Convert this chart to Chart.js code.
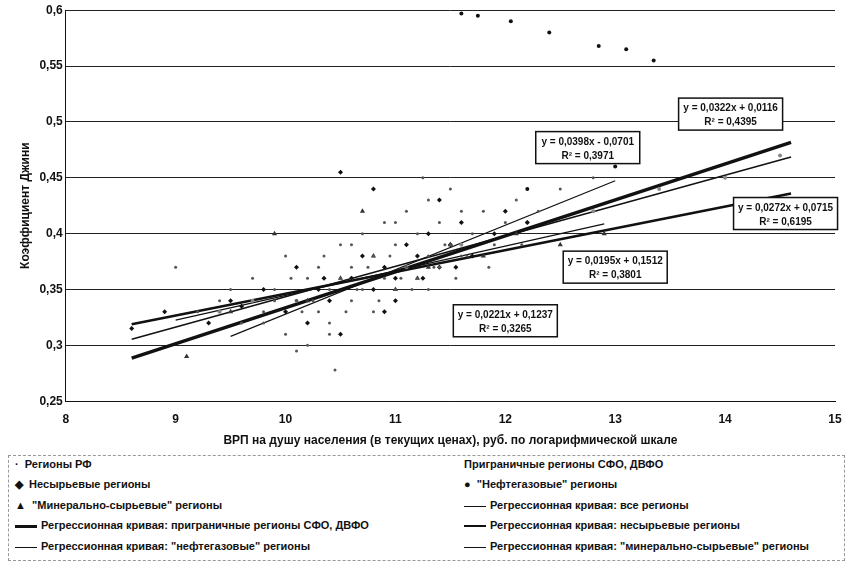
<!DOCTYPE html>
<html><head><meta charset="utf-8">
<script src="https://cdn.jsdelivr.net/npm/chart.js@4/dist/chart.umd.min.js"></script>
<style>
body{margin:0;background:#fff;font-family:"Liberation Sans",Arial,sans-serif}
#wrap{position:relative;width:849px;height:452px}
#legend{position:absolute;left:8px;top:455px;width:835px;height:104px;border:1px dashed #999;font-size:11px;font-weight:bold;color:#111}
#legend div{position:absolute;white-space:nowrap}
.ln{display:inline-block;width:22px;vertical-align:middle;margin-right:4px;border-top:1px solid #111}
</style></head><body>
<div id="wrap"><canvas id="c" width="849" height="452"></canvas></div>
<div id="legend">
<div style="left:6px;top:2px">· &nbsp;Регионы РФ</div>
<div style="left:455px;top:2px">Приграничные регионы СФО, ДВФО</div>
<div style="left:6px;top:22px">◆ &nbsp;Несырьевые регионы</div>
<div style="left:455px;top:22px">● &nbsp;"Нефтегазовые" регионы</div>
<div style="left:6px;top:43px">▲ &nbsp;"Минерально-сырьевые" регионы</div>
<div style="left:455px;top:43px"><span class="ln"></span>Регрессионная кривая: все регионы</div>
<div style="left:6px;top:63px"><span class="ln" style="border-top-width:3px"></span>Регрессионная кривая: приграничные регионы СФО, ДВФО</div>
<div style="left:455px;top:63px"><span class="ln" style="border-top-width:2px"></span>Регрессионная кривая: несырьевые регионы</div>
<div style="left:6px;top:84px"><span class="ln"></span>Регрессионная кривая: "нефтегазовые" регионы</div>
<div style="left:455px;top:84px"><span class="ln"></span>Регрессионная кривая: "минерально-сырьевые" регионы</div>
</div>
<script>
const regionsX = [9.0,9.2,9.4,9.6,9.7,9.8,9.9,10.0,10.0,10.1,10.2,10.2,10.3,10.3,10.4,10.4,10.5,10.5,10.6,10.6,10.7,10.7,10.8,10.8,10.9,10.9,11.0,11.0,11.1,11.1,11.2,11.2,11.3,11.3,11.4,11.4,11.5,11.5,11.6,11.7,11.8,11.9,12.0,12.1,12.3,12.5,12.8,10.1,10.45,11.25,
  9.5,9.8,10.05,10.25,10.35,10.55,10.65,10.75,10.85,10.95,11.05,11.15,11.35,11.45,11.55,11.65,11.85,12.15,10.15,10.6,11.0,11.3,11.6,9.9,10.4]
const regionsY = [0.37,0.33,0.34,0.32,0.36,0.33,0.35,0.31,0.38,0.34,0.36,0.30,0.33,0.37,0.35,0.32,0.36,0.39,0.34,0.37,0.35,0.40,0.33,0.38,0.36,0.41,0.35,0.39,0.37,0.42,0.36,0.40,0.38,0.43,0.37,0.41,0.39,0.44,0.38,0.40,0.42,0.39,0.41,0.43,0.42,0.44,0.45,0.295,0.278,0.45,
  0.35,0.32,0.36,0.34,0.38,0.33,0.35,0.37,0.34,0.38,0.36,0.35,0.37,0.39,0.36,0.38,0.37,0.39,0.33,0.39,0.41,0.35,0.42,0.34,0.31]
const nonResX = [8.6,8.9,9.3,9.5,9.8,10.0,10.1,10.3,10.4,10.5,10.6,10.7,10.8,10.9,11.0,11.1,11.2,11.3,11.4,11.5,11.6,11.7,11.9,12.0,12.2,10.2,10.5,11.0,11.4,10.8,10.35,10.9,11.25,11.55,9.6]
const nonResY = [0.315,0.33,0.32,0.34,0.35,0.33,0.37,0.35,0.34,0.455,0.36,0.38,0.35,0.37,0.36,0.39,0.38,0.40,0.37,0.39,0.41,0.38,0.40,0.42,0.41,0.32,0.31,0.34,0.43,0.44,0.36,0.33,0.36,0.37,0.335]
const mineralX = [9.1,9.5,9.9,10.2,10.5,10.8,11.0,11.3,11.5,11.8,12.1,12.5,12.9,10.7,11.2]
const mineralY = [0.29,0.33,0.40,0.34,0.36,0.38,0.35,0.37,0.39,0.38,0.40,0.39,0.40,0.42,0.36]
const borderX = [9.4,9.7,10.1,10.6,11.1,11.6,12.2,12.8,13.4,14.0,14.5]
const borderY = [0.33,0.34,0.34,0.36,0.37,0.39,0.41,0.42,0.44,0.45,0.47]
const oilX = [11.6,11.75,12.05,12.4,12.85,13.1,13.35,12.2,13.0]
const oilY = [0.597,0.595,0.59,0.58,0.568,0.565,0.555,0.44,0.46]
const fits = [
  {a:0.0272, b:0.0715, x0:8.6, x1:14.6, w:1.5, box:'y = 0,0272x + 0,0715|R² = 0,6195', bx:14.55, by:0.418},
  {a:0.0322, b:0.0116, x0:8.6, x1:14.6, w:3.5, box:'y = 0,0322x + 0,0116|R² = 0,4395', bx:14.05, by:0.507},
  {a:0.0195, b:0.1512, x0:8.6, x1:14.6, w:2.5, box:'y = 0,0195x + 0,1512|R² = 0,3801', bx:13.0, by:0.37},
  {a:0.0221, b:0.1237, x0:9.0, x1:12.9, w:1.2, box:'y = 0,0221x + 0,1237|R² = 0,3265', bx:12.0, by:0.322},
  {a:0.0398, b:-0.0701, x0:9.5, x1:13.0, w:1.2, box:'y = 0,0398x - 0,0701|R² = 0,3971', bx:12.75, by:0.477}
]
const pts = (xs, ys) => xs.map((x, i) => ({x, y: ys[i]}))
const boxes = {
  id:'boxes',
  afterDatasetsDraw(ch) {
    const c = ch.ctx, sx = ch.scales.x, sy = ch.scales.y
    c.save(); c.font = 'bold 10px "Liberation Sans"'; c.textAlign = 'center'
    fits.forEach(f => {
      const [l1, l2] = f.box.split('|'), px = sx.getPixelForValue(f.bx), py = sy.getPixelForValue(f.by)
      c.fillStyle = '#fff'; c.fillRect(px - 52, py - 16, 104, 32)
      c.strokeStyle = '#111'; c.lineWidth = 1.5; c.strokeRect(px - 52, py - 16, 104, 32)
      c.fillStyle = '#111'; c.fillText(l1, px, py - 3); c.fillText(l2, px, py + 11)
    })
    c.restore()
  }
}
new Chart(document.getElementById('c'), {
  type: 'scatter',
  data: { datasets: [
    {data: pts(regionsX, regionsY), pointRadius: 1.5, backgroundColor: '#555', borderWidth: 0},
    {data: pts(nonResX, nonResY), pointStyle: 'rectRot', pointRadius: 2.5, backgroundColor: '#111', borderWidth: 0},
    {data: pts(mineralX, mineralY), pointStyle: 'triangle', pointRadius: 3, backgroundColor: '#333', borderWidth: 0},
    {data: pts(borderX, borderY), pointRadius: 2, backgroundColor: '#888', borderWidth: 0},
    {data: pts(oilX, oilY), pointRadius: 2, backgroundColor: '#111', borderWidth: 0},
    ...fits.map(f => ({type: 'line', data: [{x: f.x0, y: f.a * f.x0 + f.b}, {x: f.x1, y: f.a * f.x1 + f.b}], borderColor: '#111', borderWidth: f.w, pointRadius: 0}))
  ]},
  options: {
    responsive: false, animation: false,
    layout: {padding: {left: 14, right: 14, top: 10}},
    plugins: {legend: {display: false}, tooltip: {enabled: false}},
    scales: {
      x: {min: 8, max: 15, ticks: {stepSize: 1, color: '#111', font: {weight: 'bold', size: 12}}, grid: {display: false},
          border: {color: '#111'},
          title: {display: true, text: 'ВРП на душу населения (в текущих ценах), руб. по логарифмической шкале', color: '#111', font: {weight: 'bold', size: 12}}},
      y: {min: 0.25, max: 0.6, ticks: {stepSize: 0.05, color: '#111', font: {weight: 'bold', size: 12}, callback: v => String(Math.round(v * 100) / 100).replace('.', ',')},
          grid: {color: '#222', drawTicks: false}, border: {color: '#111'},
          title: {display: true, text: 'Коэффициент Джини', color: '#111', font: {weight: 'bold', size: 12}}}
    }
  },
  plugins: [boxes]
})
</script>
</body></html>
